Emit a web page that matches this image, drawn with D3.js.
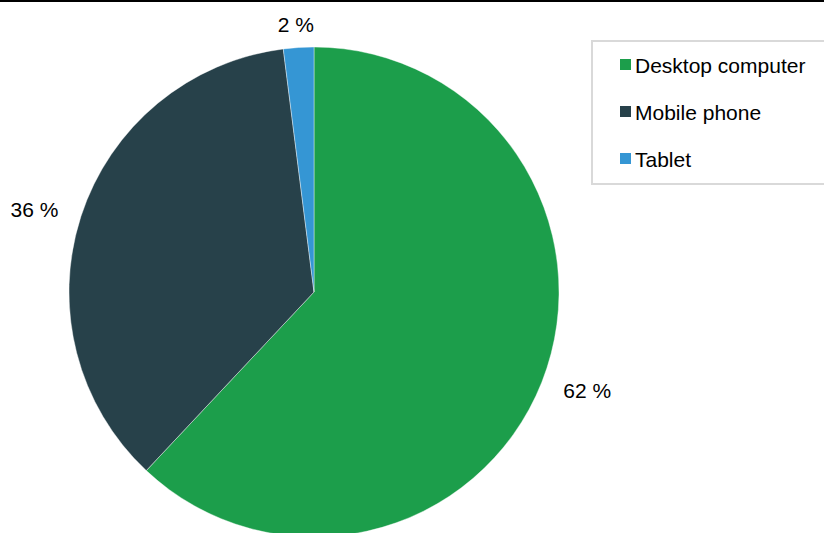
<!DOCTYPE html>
<html>
<head>
<meta charset="utf-8">
<script src="https://cdn.jsdelivr.net/npm/d3@7"></script>
<style>
  html, body { margin: 0; padding: 0; background: #fff; }
  svg { display: block; font-family: "Liberation Sans", Arial, sans-serif; }
</style>
</head>
<body>
<svg id="chart" width="824" height="533"></svg>
<script>
// Share of visits by device type
const categories = ["Desktop computer", "Mobile phone", "Tablet"];
const shares = [62, 36, 2];
const labels = ["62 %", "36 %", "2 %"];
const colors = ["#1c9e4b", "#27414a", "#3596d4"];

const width = 824, height = 533;
const svg = d3.select("#chart");

// top rule
svg.append("rect").attr("x", 0).attr("y", 0).attr("width", width).attr("height", 2).attr("fill", "#000");

const cx = 314, cy = 292, R = 245;
const data = categories.map((c, i) => ({ name: c, value: shares[i], label: labels[i], color: colors[i] }));

const pie = d3.pie().value(d => d.value).sort(null).startAngle(0).endAngle(2 * Math.PI);
const arc = d3.arc().innerRadius(0).outerRadius(R);
const arcs = pie(data);

const g = svg.append("g").attr("transform", `translate(${cx},${cy})`);
g.selectAll("path.slice")
  .data(arcs)
  .enter().append("path")
  .attr("class", "slice")
  .attr("d", arc)
  .attr("fill", d => d.data.color)
  .attr("stroke", "#ffffff")
  .attr("stroke-width", 0.4);

// outside-end data labels: text box pushed out from the rim along the mid-angle
const fontSize = 21;
const padX = 25, padY = 12;
g.selectAll("text.lbl")
  .data(arcs)
  .enter().append("text")
  .attr("class", "lbl")
  .attr("font-size", fontSize)
  .attr("fill", "#000")
  .attr("text-anchor", "middle")
  .attr("dominant-baseline", "central")
  .text(d => d.data.label)
  .each(function (d) {
    const a = (d.startAngle + d.endAngle) / 2;
    const sx = Math.sin(a), sy = -Math.cos(a);
    const bb = this.getBBox();
    const x = sx * (R + padX + bb.width / 2);
    const y = sy * (R + padY + bb.height / 2);
    d3.select(this).attr("x", x).attr("y", y);
  });

// legend
const lx = 592, ly = 41, lw = 240, lh = 143;
const legend = svg.append("g");
legend.append("rect")
  .attr("x", lx).attr("y", ly).attr("width", lw).attr("height", lh)
  .attr("fill", "#fff").attr("stroke", "#d9d9d9").attr("stroke-width", 2);

const rowY = d3.scalePoint().domain(categories).range([ly + 23, ly + 117]);
const items = legend.selectAll("g.item")
  .data(data)
  .enter().append("g")
  .attr("class", "item")
  .attr("transform", d => `translate(${lx + 28},${rowY(d.name)})`);
items.append("rect")
  .attr("x", 0).attr("y", -5).attr("width", 11).attr("height", 11)
  .attr("fill", d => d.color);
items.append("text")
  .attr("x", 15).attr("y", 1)
  .attr("dominant-baseline", "central")
  .attr("font-size", fontSize)
  .attr("fill", "#000")
  .text(d => d.name);
</script>
</body>
</html>
